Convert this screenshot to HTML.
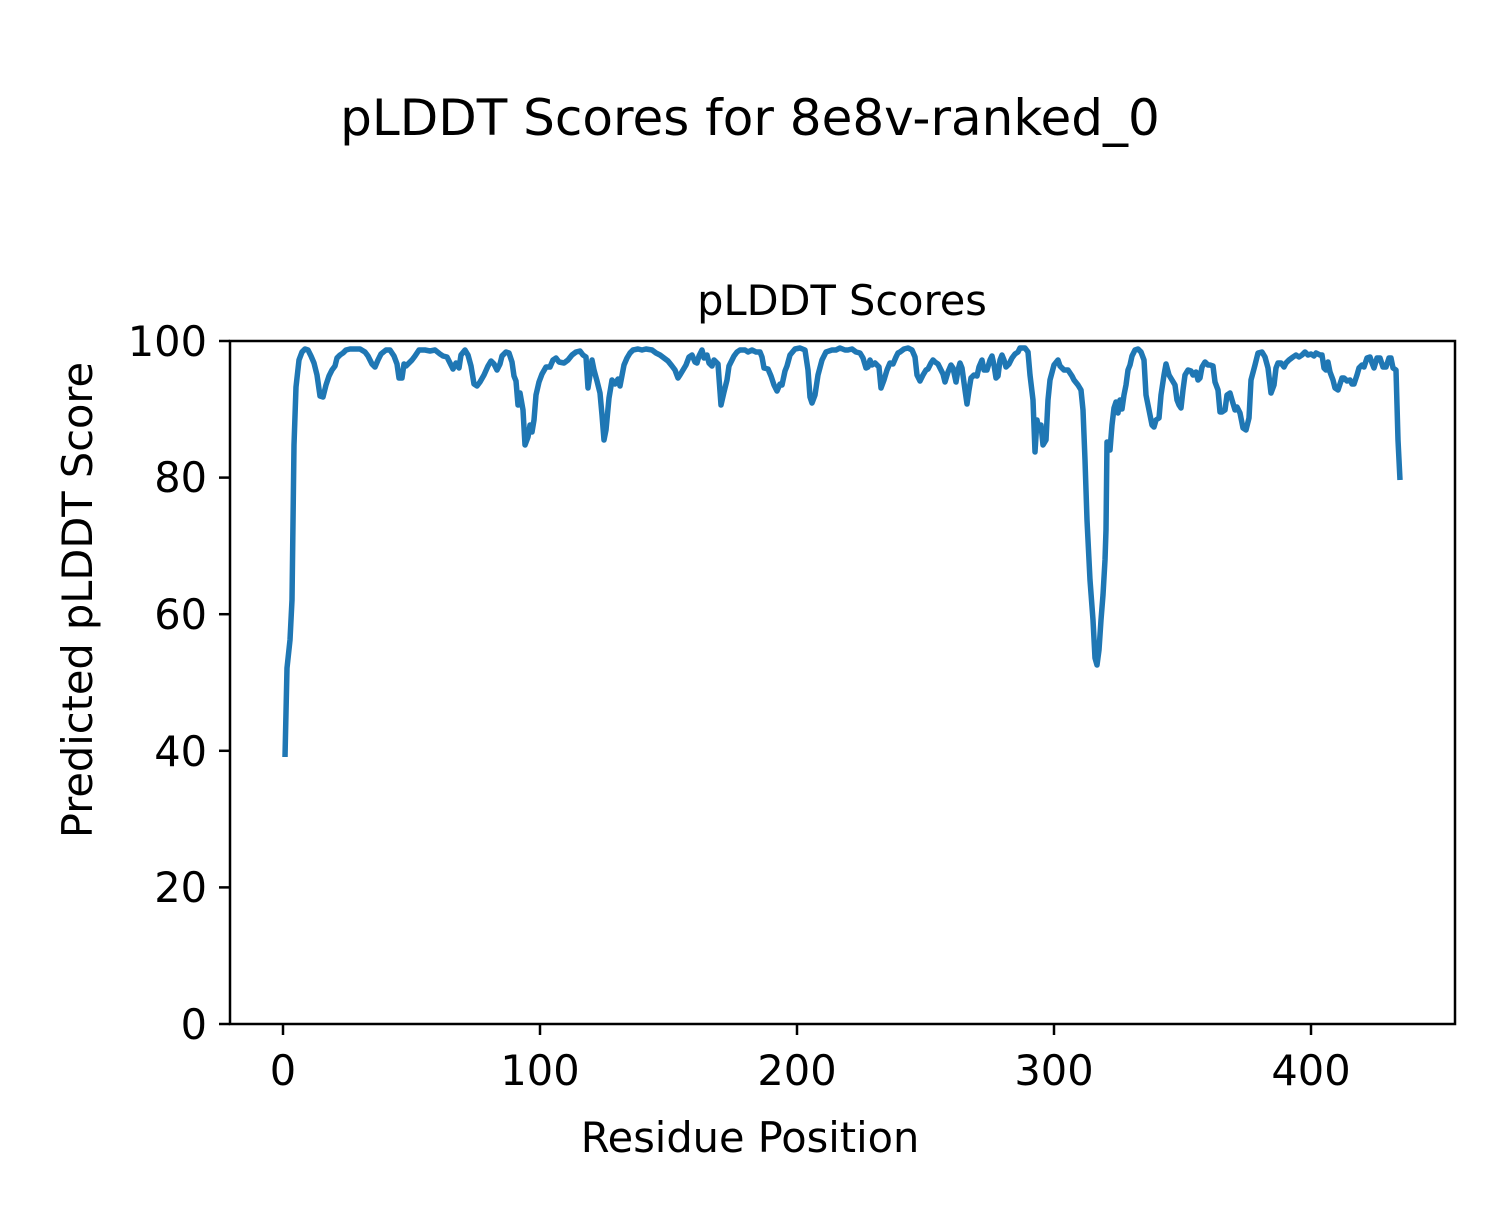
<!DOCTYPE html>
<html><head><style>body{margin:0;background:#fff}</style></head><body>
<svg width="1500" height="1200" xmlns="http://www.w3.org/2000/svg" font-family="DejaVu Sans, Liberation Sans, sans-serif">
<rect width="1500" height="1200" fill="#fff"/>
<text x="750" y="135" font-size="50" text-anchor="middle">pLDDT Scores for 8e8v-ranked_0</text>
<text x="842" y="315" font-size="41.5" text-anchor="middle">pLDDT Scores</text>
<polyline fill="none" stroke="#1f77b4" stroke-width="5.5" stroke-linejoin="round" points="285,757 287,668 290,640 292,600 294,445 296,387 299,360 302,352 305,349 308,350 311,356 314,363 317,375 320,396 323,397 326,385 329,376 332,370 335,366 337,358 340,355 343,353 346,350 350,349 355,349 360,349 365,352 368,356 372,364 375,367 378,360 381,354 386,350 390,350 394,356 397,364 399,378 402,378 404,364 406,366 408,364 412,360 415,356 419,350 425,350 430,351 435,350 440,354 443,356 447,357 450,363 453,369 456,363 459,368 461,355 465,350 468,355 471,366 474,384 477,386 480,382 484,375 488,366 491,361 494,364 497,370 500,364 502,356 506,352 509,353 512,362 514,376 516,381 518,405 520,393 523,410 525,445 528,437 530,425 532,432 534,420 536,395 539,382 542,374 546,367 550,367 553,360 556,358 559,362 564,363 568,360 572,355 576,352 580,351 583,355 586,357 588,388 590,375 592,360 594,370 597,381 600,393 602,415 604,440 606,430 609,398 612,380 615,384 618,379 620,386 624,365 627,358 630,353 633,350 638,349 642,350 646,349 652,350 656,353 660,355 664,358 668,361 672,366 675,370 678,378 680,375 683,370 686,365 689,357 692,355 695,362 697,363 699,356 702,350 704,358 707,355 709,363 712,366 714,360 718,364 721,405 724,392 727,380 729,366 732,360 734,356 737,352 740,350 745,350 748,352 752,350 756,352 760,352 762,357 764,368 768,369 771,376 774,385 777,391 780,384 782,385 785,371 787,366 790,355 795,349 800,348 805,350 808,370 810,397 812,403 815,395 818,375 822,360 826,352 832,350 836,350 840,348 845,350 848,350 852,349 856,352 860,353 863,358 866,368 868,367 870,360 872,365 875,363 879,367 881,388 884,380 887,370 890,363 893,364 896,357 898,353 900,352 904,349 908,348 912,350 915,357 917,375 920,381 923,375 926,370 928,369 931,363 933,360 935,362 938,364 940,368 943,374 945,382 948,372 951,365 953,368 956,382 958,370 960,363 962,368 965,390 967,404 969,390 971,378 974,375 977,376 979,367 982,360 984,370 987,370 990,360 992,356 994,365 996,378 998,376 1000,360 1002,355 1004,360 1006,367 1009,364 1012,358 1015,354 1018,352 1020,348 1025,348 1028,352 1030,375 1033,400 1035,452 1037,420 1039,430 1041,425 1043,445 1046,440 1048,400 1050,380 1054,365 1058,360 1060,366 1064,370 1068,370 1072,376 1074,380 1078,385 1081,390 1083,410 1085,460 1087,520 1090,580 1093,620 1095,658 1097,665 1099,650 1101,620 1103,595 1105,560 1106,530 1107,442 1110,450 1112,425 1114,408 1116,402 1118,413 1120,400 1122,409 1124,395 1126,385 1128,370 1130,365 1132,356 1135,350 1138,349 1141,352 1144,360 1146,395 1149,410 1152,425 1154,427 1156,420 1159,418 1161,395 1164,375 1166,364 1169,375 1172,380 1175,385 1177,400 1179,405 1181,408 1183,390 1185,375 1188,370 1191,371 1193,375 1196,372 1198,380 1200,378 1202,367 1205,362 1208,365 1210,365 1213,366 1215,382 1218,390 1220,412 1222,412 1225,410 1227,395 1230,393 1232,400 1235,410 1237,407 1240,413 1243,428 1246,430 1249,418 1251,380 1255,365 1258,353 1262,352 1265,357 1268,368 1271,393 1274,385 1276,368 1278,363 1281,363 1284,367 1286,363 1289,360 1293,357 1296,355 1299,357 1302,355 1305,352 1308,355 1311,354 1314,356 1316,353 1320,355 1322,355 1324,368 1326,370 1328,362 1330,372 1333,380 1335,388 1338,390 1340,384 1342,378 1344,378 1347,381 1350,380 1352,384 1354,384 1357,375 1359,368 1362,365 1364,367 1367,358 1370,357 1372,363 1374,368 1377,358 1380,358 1383,367 1386,367 1389,358 1391,358 1393,368 1396,370 1397,405 1398,440 1400,480"/>
<rect x="230" y="341" width="1225" height="683" fill="none" stroke="#000" stroke-width="2.5"/>
<g stroke="#000" stroke-width="2.5">
<line x1="283" y1="1024" x2="283" y2="1035"/><line x1="540" y1="1024" x2="540" y2="1035"/><line x1="797" y1="1024" x2="797" y2="1035"/><line x1="1054" y1="1024" x2="1054" y2="1035"/><line x1="1311" y1="1024" x2="1311" y2="1035"/>
<line x1="219" y1="1024" x2="230" y2="1024"/><line x1="219" y1="887.4" x2="230" y2="887.4"/><line x1="219" y1="750.8" x2="230" y2="750.8"/><line x1="219" y1="614.2" x2="230" y2="614.2"/><line x1="219" y1="477.6" x2="230" y2="477.6"/><line x1="219" y1="341" x2="230" y2="341"/>
</g>
<g font-size="41.5" text-anchor="middle">
<text x="283" y="1085">0</text><text x="540" y="1085">100</text><text x="797" y="1085">200</text><text x="1054" y="1085">300</text><text x="1311" y="1085">400</text>
</g>
<g font-size="41.5" text-anchor="end">
<text x="207" y="1039">0</text><text x="207" y="902">20</text><text x="207" y="766">40</text><text x="207" y="629">60</text><text x="207" y="492">80</text><text x="207" y="356">100</text>
</g>
<text x="750" y="1152" font-size="41.5" text-anchor="middle">Residue Position</text>
<text transform="translate(92,600) rotate(-90)" font-size="41.5" text-anchor="middle">Predicted pLDDT Score</text>
</svg>
</body></html>
